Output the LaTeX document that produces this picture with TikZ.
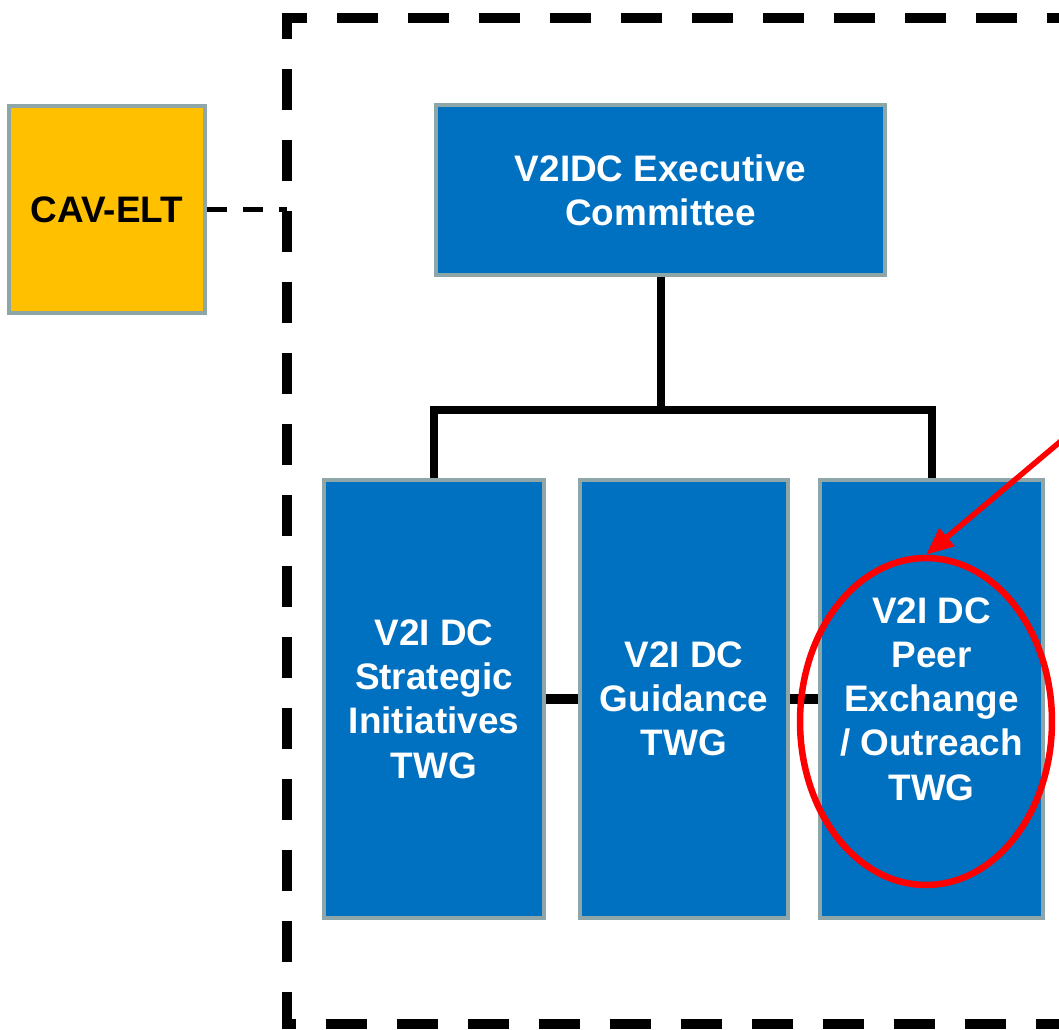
\documentclass[tikz,border=0pt]{standalone}
\usepackage{fontspec}
\setmainfont{Liberation Sans}
\usepackage{xcolor}
\usepackage{tikz}
\usetikzlibrary{shapes.geometric, arrows.meta}

\definecolor{boxblue}{HTML}{0070C0}
\definecolor{boxgold}{HTML}{FFC000}
\definecolor{boxrim}{HTML}{8EA6A8}

\tikzset{
  unit/.style={draw=boxrim, line width=0.08cm, align=center, inner sep=0pt,
    font=\bfseries\fontsize{21}{25.2}\selectfont},
  bluebox/.style={unit, fill=boxblue, text=white},
  goldbox/.style={unit, fill=boxgold, text=black},
  tree/.style={line width=0.16cm, line join=miter},
  link/.style={line width=0.22cm},
  groupline/.style={line width=0.2cm, dash pattern=on 0.82cm off 0.6cm, dash phase=1.18cm},
  liaison/.style={line width=0.09cm, dash pattern=on 0.4cm off 0.32cm},
  ring/.style={draw=red, ellipse, line width=0.13cm, inner sep=0pt},
  pointer/.style={draw=red, line width=0.11cm, -{Triangle[length=0.55cm, width=0.45cm]}}
}

\begin{document}
\begin{tikzpicture}[x=0.02cm, y=-0.02cm]
\useasboundingbox (0,0) rectangle (1059,1030);

\draw[groupline] (1100,18) -- (287,18) -- (287,1024) -- (1100,1024);

\node[goldbox, minimum width=3.92cm, minimum height=4.14cm] (cav) at (107,209.5) {CAV-ELT};
\coordinate (gate) at (287,209.5);
\draw[liaison] (cav.east) -- (gate);

\node[bluebox, minimum width=8.98cm, minimum height=3.4cm] (exec) at (660.5,190) {V2IDC Executive\\Committee};

\node[bluebox, minimum width=4.4cm, minimum height=8.76cm] (twg1) at (434,699) {V2I DC\\Strategic\\Initiatives\\TWG};
\node[bluebox, minimum width=4.16cm, minimum height=8.76cm] (twg2) at (684,699) {V2I DC\\Guidance\\TWG};
\node[bluebox, minimum width=4.46cm, minimum height=8.76cm] (twg3) at (931.5,699) {V2I DC\\Peer\\Exchange\\/ Outreach\\TWG};

\coordinate (fork) at (660.5,410);
\draw[tree] (exec.south) -- (fork);
\draw[tree] (twg1.north) |- (fork) -| (twg3.north);

\foreach \a/\b in {twg1/twg2, twg2/twg3} {
\draw[link] (\a.east) -- (\b.west);
}

\node[ring, minimum width=5.04cm, minimum height=6.54cm] (ring) at (926,721.5) {};
\coordinate (far) at (1080,425);
\draw[pointer] (far) -- (ring.north);
\end{tikzpicture}
\end{document}
